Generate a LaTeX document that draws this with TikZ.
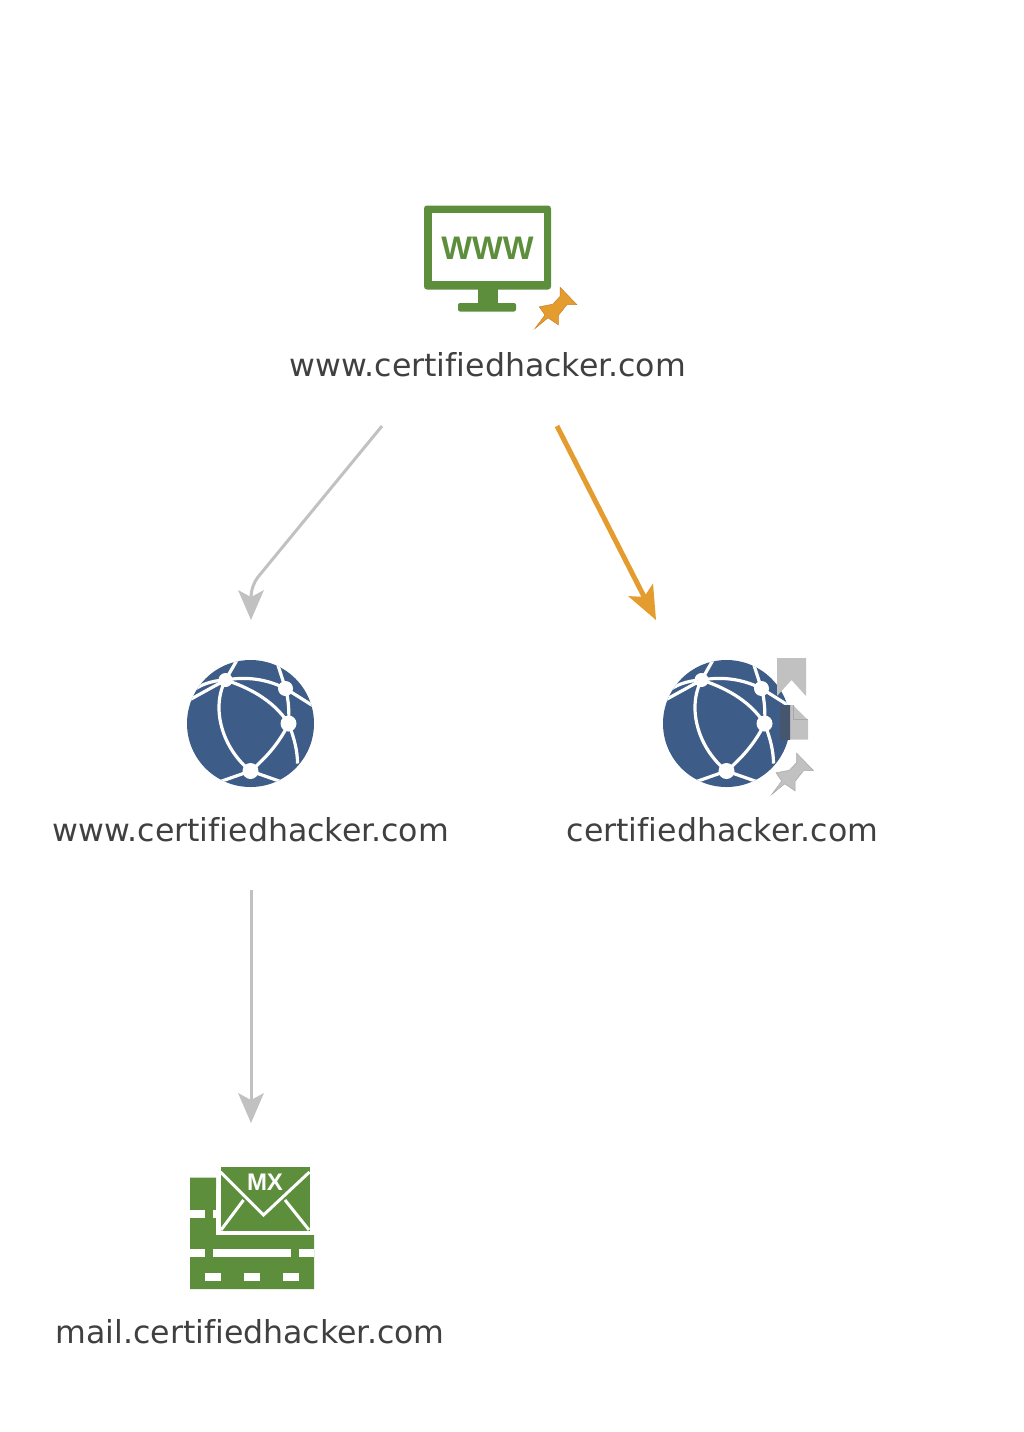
\documentclass[tikz,border=0pt]{standalone}
\usepackage{fontspec}
\setmainfont[Ligatures=NoCommon]{DejaVu Sans}
\newfontfamily\iconfont{Liberation Sans}
\usetikzlibrary{arrows.meta,calc}
\definecolor{grn}{HTML}{5C8E3C}
\definecolor{blu}{HTML}{3D5C87}
\definecolor{org}{HTML}{E59C2F}
\definecolor{orgd}{HTML}{C9812A}
\definecolor{gry}{HTML}{C1C1C1}
\definecolor{gryd}{HTML}{A8A8A8}
\definecolor{txt}{HTML}{404040}
\definecolor{ovl}{HTML}{46566F}
\tikzset{
  lbl/.style={text=txt,font=\fontsize{15.8}{18}\selectfont,inner sep=0pt,anchor=base},
  box/.style={inner sep=0pt,outer sep=0pt},
  conn/.style={draw=gry,line width=1.5pt,-{Stealth[length=15pt,width=13pt,inset=3.5pt,line width=0pt,fill=gry]}},
  connhot/.style={draw=org,line width=2.5pt,-{Stealth[length=17pt,width=14pt,inset=4pt,line width=0pt,fill=org]}},
  net/.style={draw=white,line width=1.6pt},
  wh/.style={fill=white,draw=none},
  envl/.style={draw=white,line width=1.5pt},
}
\newcommand{\globe}[2]{%
  \begin{scope}[shift={(#1,#2)}]
    \fill[blu] (0,0) circle (63.5);
    \begin{scope}
      \clip (0,0) circle (63.5);
      \draw[net] (-25,-43.5) .. controls (-5,-47) and (15,-45) .. (35,-35);
      \draw[net] (-25,-43.5) .. controls (-5,-37) and (22,-25) .. (38,0);
      \draw[net] (-25,-43.5) .. controls (-40,-15) and (-28,25) .. (0,47.5);
      \draw[net] (38,0) .. controls (30,18) and (15,35) .. (0,47.5);
      \draw[net] (35,-35) .. controls (38,-25) and (39,-10) .. (38,0);
      \draw[net] (-25,-43.5) -- (-64,-22);
      \draw[net] (-25,-43.5) .. controls (-40,-43) and (-52,-38) .. (-60,-31);
      \draw[net] (-25,-43.5) -- (-12,-66);
      \draw[net] (35,-35) -- (25,-66);
      \draw[net] (35,-35) -- (62,-18);
      \draw[net] (38,0) .. controls (44,15) and (47,28) .. (47,40);
      \draw[net] (0,47.5) -- (-30,58);
      \draw[net] (0,47.5) -- (30,58);
    \end{scope}
    \foreach \p/\r in {(-25,-43.5)/7,(35,-35)/7.5,(38,0)/8,(0,47.5)/8}
      \fill[white] \p circle (\r);
  \end{scope}}
\newcommand{\pinshape}[4]{%
  \filldraw[fill=#3,draw=#4,line width=0.25pt,shift={(#1,#2)}] (0,0) -- (10,-13.5) -- (4.3,-21.7) -- (17.7,-24.3) -- (25,-32) -- (25,-41.3) -- (41.7,-24) -- (32,-24) -- (23.3,-13) -- (23.3,-3.7) -- (13,-10.7) -- cycle;}
\begin{document}
\begin{tikzpicture}[x=0.5pt,y=-0.5pt]
\useasboundingbox (0,0) rectangle (1024,1432);
% layout boxes (icon plus label) that the connectors run between
\node[box,minimum width=396*0.5pt,minimum height=221*0.5pt] (n1) at (488,315.5) {};
\node[box,minimum width=396*0.5pt,minimum height=270*0.5pt] (n2) at (251,755) {};
\node[box,minimum width=311*0.5pt,minimum height=270*0.5pt] (n3) at (722.5,755) {};
\node[box,minimum width=396*0.5pt,minimum height=230*0.5pt] (n4) at (251,1238) {};
% monitor
\fill[grn,rounded corners=1.5pt] (424,205.5) rectangle (551,289.5);
\fill[white] (431.5,213) rectangle (543.5,280.5);
\fill[grn] (477.5,288) rectangle (497.5,304);
\fill[grn,rounded corners=1pt] (458,303) rectangle (516,311.5);
\node[inner sep=0pt,text=grn,font=\iconfont\fontsize{16.3}{18}\bfseries\selectfont] (wwwtxt) at (487.5,248) {WWW};
\pinshape{535}{328.5}{org}{orgd}
\node[lbl] (l1) at (488,376) {www.certifiedhacker.com};
% globes
\globe{250.5}{723.5}
\node[lbl] (l2) at (251,841) {www.certifiedhacker.com};
\globe{726.5}{723.5}
\fill[gry] (777,658) -- (806,658) -- (806,696) -- (791.5,680) -- (777,696) -- cycle;
\fill[gry] (780,705) -- (793,705) -- (808,720) -- (808,739.5) -- (780,739.5) -- cycle;
\begin{scope}
  \clip (663,650) rectangle (790,800);
  \fill[ovl] (780,705) rectangle (793,739.5);
\end{scope}
\draw[gryd,line width=0.3pt] (793,705) -- (793,719) -- (808,719);
\pinshape{771.7}{794.5}{gry}{gryd}
\node[lbl] (l3) at (722.5,841) {certifiedhacker.com};
% MX icon
\fill[grn] (190,1177.7) -- (216,1177.7) -- (216,1235) -- (314,1235) -- (314,1289) -- (190,1289) -- cycle;
\fill[grn] (220.5,1167) rectangle (309.5,1231);
\fill[wh] (190,1210) rectangle (205,1218);
\fill[wh] (213,1210) rectangle (216,1218);
\fill[wh] (190,1249) rectangle (205,1257);
\fill[wh] (213,1249) rectangle (291,1257);
\fill[wh] (299,1249) rectangle (314,1257);
\fill[wh] (205,1273) rectangle (221,1281);
\fill[wh] (244,1273) rectangle (260,1281);
\fill[wh] (283,1273) rectangle (299,1281);
\draw[envl] (220.5,1172) -- (263.5,1215) -- (309.5,1172);
\draw[envl] (221,1230) -- (243.5,1200);
\draw[envl] (309,1230) -- (285,1200);
\draw[envl] (217,1189) -- (217,1233) -- (310,1233);
\node[inner sep=0pt,text=white,font=\iconfont\fontsize{12}{14}\bfseries\selectfont] (mxtxt) at (265,1182) {MX};
\node[lbl] (l4) at (250,1343) {mail.certifiedhacker.com};
% connectors
\draw[conn] ($(n1.south)+(-106,0)$) -- (258,577) .. controls (254,582) and (251,590) .. (n2.north);
\draw[connhot] ($(n1.south)+(69,0)$) -- ($(n3.north)+(-66.5,0)$);
\draw[conn] (n2.south) -- (n4.north);
\end{tikzpicture}
\end{document}
